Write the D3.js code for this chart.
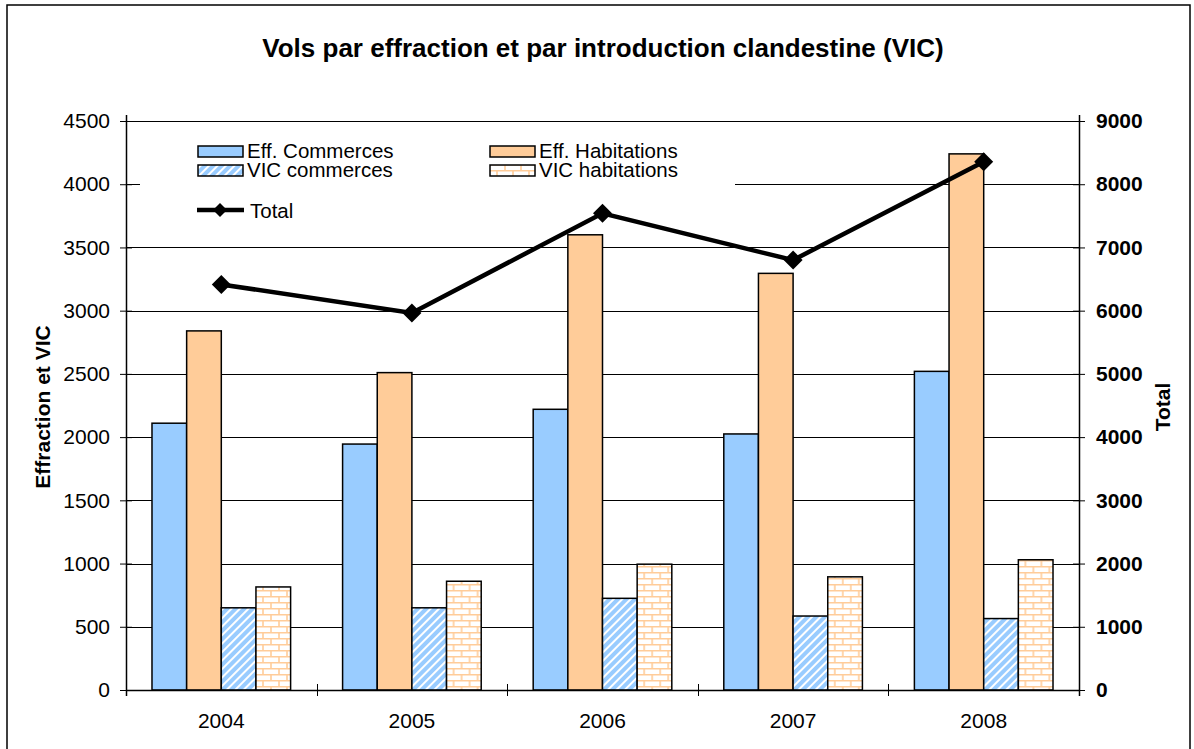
<!DOCTYPE html>
<html>
<head>
<meta charset="utf-8">
<script src="https://cdn.jsdelivr.net/npm/d3@7"></script>
<style>
html,body{margin:0;padding:0;background:#fff;}
svg{display:block;}
text{font-family:"Liberation Sans",Arial,sans-serif;fill:#000;}
</style>
</head>
<body>
<svg id="chart" width="1194" height="749"></svg>
<script>
const years = ["2004","2005","2006","2007","2008"];
const effCommerces = [2110, 1945, 2220, 2025, 2520];
const effHabitations = [2840, 2510, 3600, 3295, 4240];
const vicCommerces = [650, 650, 725, 585, 565];
const vicHabitations = [815, 860, 995, 895, 1030];
const totals = [6415, 5965, 7540, 6800, 8355];
const leftTicks = [0,500,1000,1500,2000,2500,3000,3500,4000,4500];
const rightTicks = [0,1000,2000,3000,4000,5000,6000,7000,8000,9000];
const seriesNames = ["Eff. Commerces","Eff. Habitations","VIC commerces","VIC habitations"];
const seriesData = [effCommerces, effHabitations, vicCommerces, vicHabitations];

const svg = d3.select("#chart");
const L = 126, R = 1079, T = 121, B = 690;

// patterns
const defs = svg.append("defs");
const diag = defs.append("pattern").attr("id","diag").attr("patternUnits","userSpaceOnUse")
  .attr("width",6).attr("height",6).attr("patternTransform","rotate(45)");
diag.append("rect").attr("width",6).attr("height",6).attr("fill","#99CCFF");
diag.append("rect").attr("width",2).attr("height",6).attr("fill","#ffffff");
const brick = defs.append("pattern").attr("id","brick").attr("patternUnits","userSpaceOnUse")
  .attr("width",16).attr("height",12).attr("x",0).attr("y",2);
brick.append("rect").attr("width",16).attr("height",12).attr("fill","#ffffff");
brick.append("path").attr("d","M0,0.75H16M0,6.75H16M1,0V6.75M9,6.75V12")
  .attr("stroke","#FFCC99").attr("stroke-width",1.6).attr("fill","none");

const fills = ["#99CCFF","#FFCC99","url(#diag)","url(#brick)"];

// frame
svg.append("rect").attr("x",7).attr("y",5).attr("width",1183).attr("height",800)
  .attr("fill","none").attr("stroke","#000").attr("stroke-width",1.5);

// scales
const x0 = d3.scaleBand().domain(years).range([L,R]);
const x1 = d3.scaleBand().domain(seriesNames).range([0,x0.bandwidth()]).paddingInner(0).paddingOuter(0.75);
const yL = d3.scaleLinear().domain([0,4500]).range([B,T]);
const yR = d3.scaleLinear().domain([0,9000]).range([B,T]);

// gridlines
svg.append("g").selectAll("line").data(leftTicks.filter(d=>d>0)).join("line")
  .attr("x1",L).attr("x2",R).attr("y1",d=>Math.round(yL(d))+0.5).attr("y2",d=>Math.round(yL(d))+0.5)
  .attr("stroke","#000").attr("stroke-width",1);

// bars
const groups = svg.append("g").selectAll("g").data(years).join("g")
  .attr("transform",d=>`translate(${x0(d)},0)`);
groups.selectAll("rect").data((d,i)=>seriesNames.map((s,k)=>({s,k,v:seriesData[k][i]}))).join("rect")
  .attr("x",d=>x1(d.s)).attr("width",x1.bandwidth())
  .attr("y",d=>yL(d.v)).attr("height",d=>B-yL(d.v))
  .attr("fill",d=>fills[d.k]).attr("stroke","#000").attr("stroke-width",1.5);

// legend background
svg.append("rect").attr("x",140).attr("y",126).attr("width",595).attr("height",100).attr("fill","#fff");

// left axis
const axL = svg.append("g").attr("transform",`translate(${L},0)`)
  .call(d3.axisLeft(yL).tickValues(leftTicks).tickSize(6).tickPadding(10).tickFormat(d3.format("d")));
axL.selectAll(".tick line").attr("x1",6);
axL.select(".domain").attr("d",`M0.5,${T-6}V${B+6}`);
axL.selectAll("text").attr("font-size",21).attr("font-family","Liberation Sans, Arial, sans-serif");

// right axis
const axR = svg.append("g").attr("transform",`translate(${R},0)`)
  .call(d3.axisRight(yR).tickValues(rightTicks).tickSize(6).tickPadding(11).tickFormat(d3.format("d")));
axR.selectAll(".tick line").attr("x1",-6);
axR.select(".domain").attr("d",`M0.5,${T-6}V${B+6}`);
axR.selectAll("text").attr("font-size",21).attr("font-weight","bold").attr("font-family","Liberation Sans, Arial, sans-serif");

// bottom axis
const axB = svg.append("g").attr("transform",`translate(0,${B})`)
  .call(d3.axisBottom(x0).tickSize(0).tickPadding(23));
axB.select(".domain").attr("d",`M${L},0.5H${R}`);
axB.selectAll("text").attr("font-size",21).attr("font-family","Liberation Sans, Arial, sans-serif");
const bounds = years.map(d=>x0(d)).concat([R]);
axB.append("g").selectAll("line").data(bounds).join("line")
  .attr("x1",d=>Math.round(d)+0.5).attr("x2",d=>Math.round(d)+0.5).attr("y1",-6).attr("y2",6)
  .attr("stroke","#000");
svg.selectAll(".domain").attr("stroke","#000").attr("stroke-width",1.5);

// total line
const line = d3.line().x((d,i)=>x0(years[i])+x0.bandwidth()/2).y(d=>yR(d));
svg.append("path").datum(totals).attr("d",line).attr("fill","none").attr("stroke","#000").attr("stroke-width",4.5);
svg.append("g").selectAll("path").data(totals).join("path")
  .attr("transform",(d,i)=>`translate(${x0(years[i])+x0.bandwidth()/2},${yR(d)})`)
  .attr("d","M0,-9.5L9.5,0L0,9.5L-9.5,0Z").attr("fill","#000");

// title
svg.append("text").attr("x",603).attr("y",57).attr("text-anchor","middle")
  .attr("font-size",26).attr("font-weight","bold")
  .text("Vols par effraction et par introduction clandestine (VIC)");

// axis titles
svg.append("text").attr("transform","translate(50,407) rotate(-90)").attr("text-anchor","middle")
  .attr("font-size",21).attr("font-weight","bold").text("Effraction et VIC");
svg.append("text").attr("transform","translate(1170,407) rotate(-90)").attr("text-anchor","middle")
  .attr("font-size",21).attr("font-weight","bold").text("Total");

// legend
const legPos = [[198,146],[490,146],[198,165],[490,165]];
const lg = svg.append("g");
seriesNames.forEach((s,k)=>{
  const [lx,ly] = legPos[k];
  lg.append("rect").attr("x",lx).attr("y",ly).attr("width",45).attr("height",11)
    .attr("fill",fills[k]).attr("stroke","#000").attr("stroke-width",1.5);
  lg.append("text").attr("x",lx+49).attr("y",ly+12).attr("font-size",20.5).text(s);
});
lg.append("line").attr("x1",197).attr("x2",244).attr("y1",210).attr("y2",210).attr("stroke","#000").attr("stroke-width",4.5);
lg.append("path").attr("transform","translate(220,210)").attr("d","M0,-7L7,0L0,7L-7,0Z").attr("fill","#000");
lg.append("text").attr("x",250).attr("y",218).attr("font-size",20.5).text("Total");
</script>
</body>
</html>
